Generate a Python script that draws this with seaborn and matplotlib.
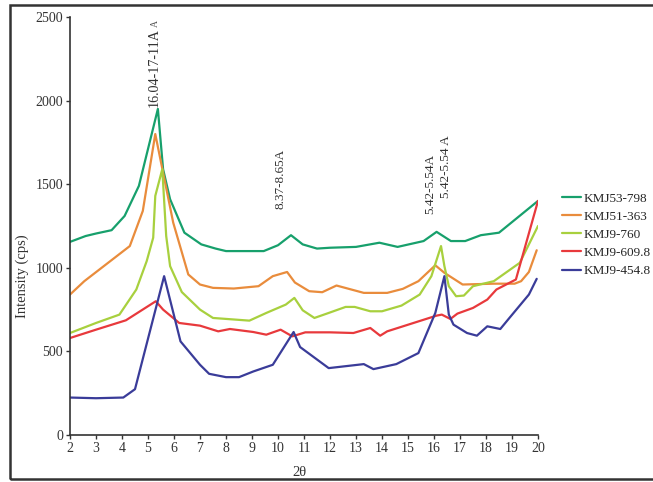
import numpy as np
import pandas as pd
import matplotlib
matplotlib.use("Agg")
import matplotlib.pyplot as plt
import seaborn as sns
from matplotlib.patches import Rectangle

series_names = ["KMJ53-798", "KMJ51-363", "KMJ9-760", "KMJ9-609.8", "KMJ9-454.8"]
colors = ["#17a06c", "#e98c3c", "#a8d03e", "#e8393c", "#3a3c99"]

x_green = [2, 2.6, 3.0, 3.6, 4.1, 4.65, 5.38, 5.58, 5.85, 6.4, 7.05, 7.6, 8.0, 9.0, 9.45, 10.0, 10.5,
           10.95, 11.5, 12.0, 13.0, 13.9, 14.6, 15.6, 16.1, 16.65, 17.2, 17.8, 18.5, 20.0]
y_green = [1155, 1190, 1205, 1225, 1310, 1490, 1950, 1590, 1410, 1210, 1140, 1115, 1100, 1100, 1100, 1135,
           1195, 1140, 1115, 1120, 1125, 1150, 1125, 1160, 1215, 1160, 1160, 1195, 1210, 1400]

x_orange = [2, 2.55, 4.3, 4.8, 5.28, 5.97, 6.55, 7.0, 7.5, 8.3, 9.25, 9.8, 10.35, 10.65, 11.2, 11.7,
            12.25, 13.3, 14.2, 14.8, 15.4, 16.05, 16.4, 17.1, 18.3, 19.1, 19.35, 19.65, 19.95]
y_orange = [840, 920, 1130, 1340, 1800, 1270, 960, 900, 880, 876, 890, 950, 975, 912, 860, 854,
            894, 850, 850, 874, 920, 1015, 970, 900, 905, 905, 920, 975, 1105]

x_lgreen = [2, 3.0, 3.9, 4.55, 4.95, 5.2, 5.28, 5.55, 5.7, 5.85, 6.3, 7.0, 7.5, 8.9, 9.55, 10.3, 10.63,
            10.95, 11.4, 11.95, 12.6, 12.95, 13.55, 14.0, 14.75, 15.45, 15.9, 16.27, 16.4, 16.57, 16.85,
            17.15, 17.5, 18.3, 19.3, 20.0]
y_lgreen = [610, 670, 720, 870, 1040, 1180, 1430, 1590, 1190, 1010, 855, 750, 700, 684, 730, 780, 820,
            746, 700, 730, 766, 766, 740, 740, 774, 840, 950, 1130, 1010, 890, 830,
            834, 890, 920, 1030, 1250]

x_red = [2, 3.0, 4.15, 5.3, 5.58, 6.2, 7.0, 7.7, 8.15, 9.05, 9.55, 10.1, 10.55, 11.05, 12.0, 12.9,
         13.55, 13.93, 14.2, 16.1, 16.3, 16.63, 16.9, 17.5, 18.05, 18.4, 19.15, 20.0]
y_red = [580, 630, 686, 800, 750, 670, 654, 620, 634, 616, 600, 630, 590, 614, 614, 610,
         640, 594, 620, 714, 720, 694, 726, 760, 810, 870, 930, 1400]

x_blue = [2, 3.0, 4.05, 4.5, 5.62, 6.25, 7.0, 7.35, 8.0, 8.5, 9.05, 9.8, 10.6, 10.85, 11.95, 13.3,
          13.67, 14.55, 15.4, 16.05, 16.4, 16.57, 16.75, 17.27, 17.65, 18.05, 18.55, 18.9, 19.65, 19.95]
y_blue = [224, 220, 224, 274, 950, 560, 420, 366, 346, 346, 380, 420, 616, 526, 400, 424,
          394, 424, 490, 730, 950, 720, 660, 610, 594, 650, 634, 700, 840, 934]

x_ticks = list(range(2, 21))
y_ticks = [0, 500, 1000, 1500, 2000, 2500]

annotations = [("16.04-17-11A", 5.25, 1960, 10.2), ("8.37-8.65A", 10.08, 1350, 9.5),
               ("5.42-5.54A", 15.87, 1320, 9.5), ("5.42-5.54 A", 16.48, 1420, 9.5)]

xs = [x_green, x_orange, x_lgreen, x_red, x_blue]
ys = [y_green, y_orange, y_lgreen, y_red, y_blue]
frames = []
for name, xv, yv in zip(series_names, xs, ys):
    frames.append(pd.DataFrame({"2θ": xv, "Intensity": yv, "sample": name, "order": range(len(xv))}))
df = pd.concat(frames, ignore_index=True)

sns.set_style("white")
plt.rcParams["font.family"] = ["Liberation Serif", "DejaVu Serif"]

fig = plt.figure(figsize=(6.53, 4.82), dpi=100)
ax = fig.add_axes([70/653, 1-435/482, (538-70)/653, (435-17)/482])

sns.lineplot(data=df, x="2θ", y="Intensity", hue="sample", hue_order=series_names,
             palette=colors, sort=False, estimator=None, linewidth=1.6, ax=ax, legend=True)

ax.set_xlim(2, 20)
ax.set_ylim(0, 2500)
ax.set_xticks(x_ticks)
ax.set_yticks(y_ticks)
ax.tick_params(axis="both", labelsize=10, colors="#333333", direction="out", length=3, width=1,
               bottom=True, left=True, pad=2)
for s in ["top", "right"]:
    ax.spines[s].set_visible(False)
for s in ["left", "bottom"]:
    ax.spines[s].set_color("#333333")
    ax.spines[s].set_linewidth(1.2)
ax.set_xlabel("2θ", fontsize=10.5, color="#333333")
ax.set_ylabel("Intensity (cps)", fontsize=10.5, color="#333333")
ax.xaxis.set_label_coords(0.49, -0.075)
ax.yaxis.set_label_coords(-0.088, 0.38)

for txt, xv, yv, fs in annotations:
    ax.text(xv, yv, txt, rotation=90, ha="center", va="bottom", fontsize=fs, color="#333333",
            bbox=dict(facecolor="white", edgecolor="none", pad=0.5), zorder=5)
ax.text(5.3, 2440, "A", rotation=90, ha="center", va="bottom", fontsize=7, color="#555555", zorder=5)

handles, labels = ax.get_legend_handles_labels()
ax.legend(handles, labels, loc="upper left", bbox_to_anchor=(557/653, 1-187/482),
          bbox_transform=fig.transFigure, frameon=False, fontsize=9.5, handlelength=1.4,
          handletextpad=0.2, labelspacing=0.45, borderaxespad=0)

fig.patches.append(Rectangle((10/653, 1-479/482), 1.0, (479-5)/482, transform=fig.transFigure,
                             fill=False, edgecolor="#333333", linewidth=1.8, clip_on=False))

fig.savefig("out.png", dpi=100)
